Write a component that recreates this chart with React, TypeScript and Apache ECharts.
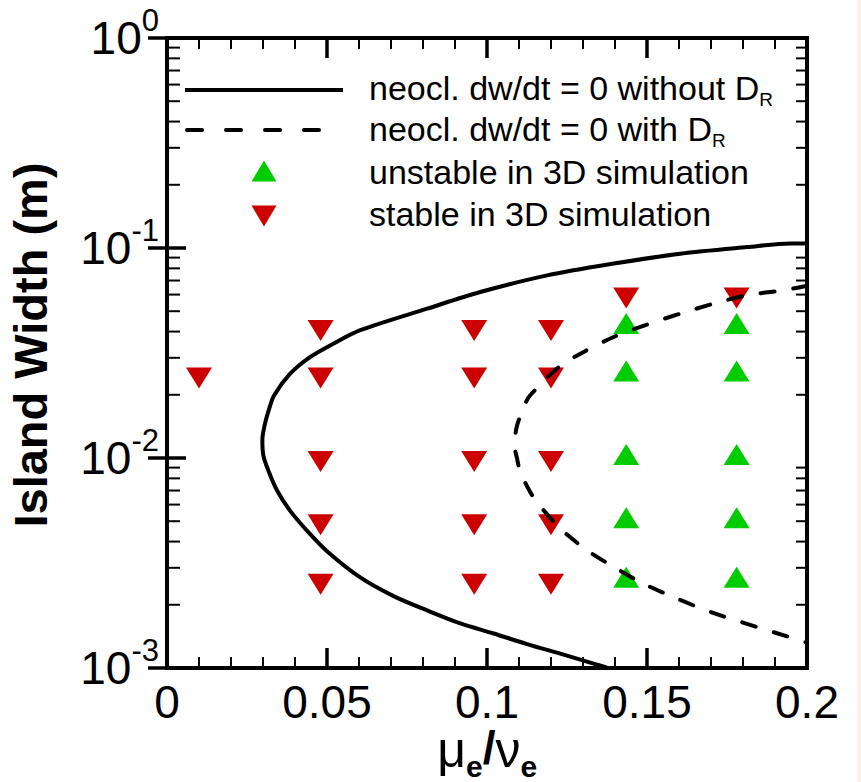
import React, { useEffect, useRef } from "react";
import * as echarts from "echarts";

// ---- data ----
const xTicks = [0, 0.05, 0.1, 0.15, 0.2];
const xTickLabels = ["0", "0.05", "0.1", "0.15", "0.2"];
const yExponents = [-3, -2, -1, 0];
const yExpLabels = ["-3", "-2", "-1", "0"];
const yMinorMantissas = [2, 3, 4, 5, 6, 7, 8, 9];

// neoclassical dw/dt = 0 without D_R (solid)
const solidX = [0.2, 0.1948, 0.1813, 0.1604, 0.1396, 0.1188, 0.0979, 0.0813, 0.0604, 0.0521, 0.0448, 0.0385, 0.0335, 0.0318, 0.0305, 0.0298, 0.0301, 0.0317, 0.0344, 0.0385, 0.0438, 0.05, 0.0604, 0.0708, 0.0813, 0.0917, 0.1021, 0.1125, 0.1229, 0.1333, 0.137, 0.14];
const solidY = [0.105, 0.105, 0.101, 0.094, 0.0843, 0.0741, 0.0617, 0.0514, 0.0406, 0.0351, 0.0303, 0.0252, 0.0199, 0.0169, 0.0143, 0.0122, 0.0103, 0.0087, 0.007, 0.0056, 0.0045, 0.0036, 0.0027, 0.0022, 0.00188, 0.00163, 0.00146, 0.0013, 0.00117, 0.00105, 0.00101, 0.00095];

// neoclassical dw/dt = 0 with D_R (dashed)
const dashedX = [0.2, 0.1927, 0.1813, 0.1708, 0.1604, 0.15, 0.1396, 0.1292, 0.1219, 0.1135, 0.112, 0.1094, 0.1088, 0.1087, 0.1094, 0.1104, 0.1135, 0.1156, 0.1224, 0.1313, 0.1396, 0.1489, 0.1594, 0.1698, 0.1792, 0.1896, 0.2];
const dashedY = [0.0661, 0.0629, 0.0596, 0.0543, 0.0487, 0.0432, 0.0377, 0.0314, 0.0267, 0.0199, 0.0182, 0.0143, 0.0126, 0.0113, 0.00993, 0.00858, 0.00689, 0.00617, 0.00469, 0.00363, 0.00303, 0.00252, 0.00214, 0.00185, 0.00166, 0.00148, 0.00132];

// unstable in 3D simulation (green, up)
const unstableX = [0.1435, 0.1435, 0.1435, 0.1435, 0.1435, 0.178, 0.178, 0.178, 0.178, 0.178];
const unstableY = [0.042, 0.025, 0.01, 0.005, 0.0026, 0.042, 0.025, 0.01, 0.005, 0.0026];

// stable in 3D simulation (red, down)
const stableX = [0.01, 0.048, 0.048, 0.048, 0.048, 0.048, 0.096, 0.096, 0.096, 0.096, 0.096, 0.12, 0.12, 0.12, 0.12, 0.12, 0.1435, 0.178];
const stableY = [0.025, 0.042, 0.025, 0.01, 0.005, 0.0026, 0.042, 0.025, 0.01, 0.005, 0.0026, 0.042, 0.025, 0.01, 0.005, 0.0026, 0.06, 0.06];

const legendLabels = [
  "neocl. dw/dt = 0 without D",
  "neocl. dw/dt = 0 with D",
  "unstable in 3D simulation",
  "stable in 3D simulation",
];

const FONT = "'Liberation Sans', Arial, Helvetica, sans-serif";
const RED = "#CC0000";
const GREEN = "#00CC00";

const pairs = (xs: number[], ys: number[]) => xs.map((x, i) => [x, ys[i]]);

export default function App() {
  const ref = useRef<HTMLDivElement>(null);

  useEffect(() => {
    const chart = echarts.init(ref.current!, null, { renderer: "svg" });

    const yMinor: number[] = [];
    yExponents.slice(0, -1).forEach((e) => {
      yMinorMantissas.forEach((m) => yMinor.push(m * Math.pow(10, e)));
    });

    const xAxisCommon = {
      type: "value",
      min: 0,
      max: 0.2,
      interval: 0.05,
      axisLine: { show: false },
      splitLine: { show: false },
      axisTick: { show: true, inside: true, length: 20, lineStyle: { width: 3.5, color: "#000" } },
      minorTick: { show: true, splitNumber: 5, length: 11, lineStyle: { width: 2, color: "#000" } },
      minorSplitLine: { show: false },
    };

    const yAxisCommon = {
      type: "log",
      logBase: 10,
      min: 0.001,
      max: 1,
      splitNumber: 3,
      axisLine: { show: false },
      splitLine: { show: false },
      axisTick: { show: true, inside: true, length: 19, lineStyle: { width: 3.5, color: "#000" } },
    };

    const option: any = {
      animation: false,
      backgroundColor: "#ffffff",
      grid: {
        left: 167,
        top: 38,
        width: 640,
        height: 630,
        show: true,
        borderColor: "#000",
        borderWidth: 4,
        backgroundColor: "transparent",
        containLabel: false,
        outerBoundsMode: "none",
      },
      xAxis: [
        {
          ...xAxisCommon,
          position: "bottom",
          axisLabel: {
            margin: 11,
            fontSize: 46,
            lineHeight: 46,
            color: "#000",
            fontFamily: FONT,
            formatter: (v: number) => {
              const i = xTicks.findIndex((t) => Math.abs(t - v) < 1e-9);
              return i >= 0 ? xTickLabels[i] : "";
            },
          },
          name: "{sp| }{g|μ}{sb|e}{sl|/}{g|ν}{sb|e}",
          nameLocation: "middle",
          nameGap: 57,
          nameMoveOverlap: false,
          nameTextStyle: {
            color: "#000",
            fontFamily: FONT,
            rich: {
              sp: { fontSize: 1, lineHeight: 56, verticalAlign: "top", fontFamily: FONT, color: "#000" },
              g: { fontSize: 50, lineHeight: 40, verticalAlign: "top", fontFamily: FONT, color: "#000" },
              sb: { fontSize: 30, fontWeight: "bold", lineHeight: 20, verticalAlign: "bottom", fontFamily: FONT, color: "#000" },
              sl: { fontSize: 46, fontWeight: "bold", lineHeight: 40, verticalAlign: "top", fontFamily: FONT, color: "#000" },
            },
          },
        },
        {
          ...xAxisCommon,
          position: "top",
          axisLabel: { show: false },
        },
      ],
      yAxis: [
        {
          ...yAxisCommon,
          position: "left",
          axisLabel: {
            margin: 8,
            color: "#000",
            fontFamily: FONT,
            formatter: (v: number) => {
              const e = Math.round(Math.log10(v));
              const i = yExponents.indexOf(e);
              return i >= 0 ? `{b|10}{s|${yExpLabels[i]}}` : "";
            },
            rich: {
              b: { fontSize: 46, lineHeight: 66, fontFamily: FONT, color: "#000" },
              s: { fontSize: 31, lineHeight: 31, verticalAlign: "top", fontFamily: FONT, color: "#000" },
            },
          },
          name: "Island Width (m)",
          nameLocation: "middle",
          nameGap: 113,
          nameRotate: 90,
          nameMoveOverlap: false,
          nameTextStyle: {
            fontSize: 47,
            fontWeight: "bold",
            fontFamily: FONT,
            color: "#000",
            padding: [0, 0, 0, 16],
          },
        },
        {
          ...yAxisCommon,
          position: "right",
          axisLabel: { show: false },
        },
      ],
      series: [
        {
          type: "custom",
          name: "y minor ticks",
          coordinateSystem: "cartesian2d",
          xAxisIndex: 0,
          yAxisIndex: 0,
          clip: false,
          silent: true,
          data: yMinor.map((v) => [0, v]),
          renderItem: (params: any, api: any) => {
            const p = api.coord([0, api.value(1)]);
            const cs = params.coordSys;
            const xl = cs.x;
            const xr = cs.x + cs.width;
            return {
              type: "group",
              children: [
                { type: "line", shape: { x1: xl, y1: p[1], x2: xl + 13, y2: p[1] }, style: { stroke: "#000", lineWidth: 2 } },
                { type: "line", shape: { x1: xr - 11, y1: p[1], x2: xr, y2: p[1] }, style: { stroke: "#000", lineWidth: 2 } },
              ],
            };
          },
        },
        {
          type: "line",
          name: legendLabels[0],
          data: pairs(solidX, solidY),
          showSymbol: false,
          symbol: "none",
          smooth: 0.3,
          lineStyle: { color: "#000", width: 4 },
        },
        {
          type: "line",
          name: legendLabels[1],
          data: pairs(dashedX, dashedY),
          showSymbol: false,
          symbol: "none",
          smooth: 0.3,
          lineStyle: { color: "#000", width: 4, type: [14, 19], cap: "round" },
        },
        {
          type: "scatter",
          name: legendLabels[2],
          data: pairs(unstableX, unstableY),
          symbol: "triangle",
          symbolSize: [26, 21],
          symbolOffset: [0, -3.5],
          itemStyle: { color: GREEN, opacity: 1 },
        },
        {
          type: "scatter",
          name: legendLabels[3],
          data: pairs(stableX, stableY),
          symbol: "triangle",
          symbolSize: [26, 21],
          symbolRotate: 180,
          symbolOffset: [0, 3.5],
          itemStyle: { color: RED, opacity: 1 },
        },
      ],
      graphic: [
        { type: "line", shape: { x1: 185, y1: 90, x2: 343, y2: 90 }, style: { stroke: "#000", lineWidth: 4 } },
        { type: "line", shape: { x1: 187, y1: 130, x2: 343, y2: 130 }, style: { stroke: "#000", lineWidth: 4, lineDash: [15, 24], lineCap: "round" } },
        { type: "polygon", shape: { points: [[251.5, 181.5], [276.5, 181.5], [264, 160.5]] }, style: { fill: GREEN } },
        { type: "polygon", shape: { points: [[251.5, 205.5], [276.5, 205.5], [264, 226.5]] }, style: { fill: RED } },
        ...legendLabels.map((t, i) => ({
          type: "text",
          x: 369,
          y: [88, 129, 172, 214][i],
          style: {
            text: i < 2 ? `${t}{sub|R}` : t,
            fontSize: 34,
            fontFamily: FONT,
            fill: "#000",
            align: "left",
            verticalAlign: "middle",
            lineHeight: 42,
            rich: { sub: { fontSize: 19, lineHeight: 20, verticalAlign: "bottom", fontFamily: FONT, fill: "#000" } },
          },
        })),
        { type: "rect", shape: { x: 857, y: 0, width: 4, height: 782 }, style: { fill: "#FBF1DE" } },
      ],
    };

    chart.setOption(option);
    return () => chart.dispose();
  }, []);

  return (
    <div
      ref={ref}
      style={{ position: "absolute", left: 0, top: 0, width: 861, height: 782, background: "#fff" }}
    />
  );
}
